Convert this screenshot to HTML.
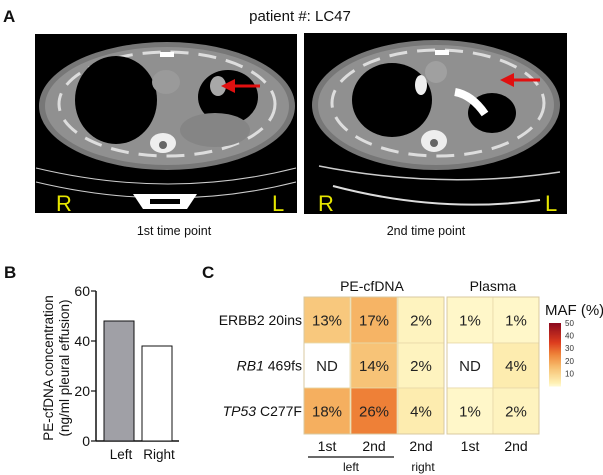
<!DOCTYPE html>
<html><head><meta charset="utf-8"><style>
body{margin:0;background:#fff;width:603px;height:475px;overflow:hidden;font-family:"Liberation Sans",Arial,sans-serif;}
svg{position:absolute;left:0;top:0}
</style></head><body>
<svg width="603" height="475" viewBox="0 0 603 475">
<g font-weight="bold" font-size="17" fill="#111">
<text x="3" y="22">A</text>
<text x="4" y="278">B</text>
<text x="202" y="278">C</text>
</g>
<text x="300" y="21" font-size="15" text-anchor="middle" fill="#111">patient #: LC47</text>

<g>
<rect x="35" y="34" width="262" height="179" fill="#000"/>
<ellipse cx="167" cy="106" rx="128" ry="64" fill="#777"/>
<ellipse cx="167" cy="106" rx="122" ry="59" fill="#909090"/>
<ellipse cx="167" cy="104" rx="108" ry="52" fill="none" stroke="#ddd" stroke-width="3" stroke-dasharray="18 10"/>
<ellipse cx="116" cy="100" rx="41" ry="44" fill="#000"/>
<ellipse cx="228" cy="97" rx="30" ry="27" fill="#000"/>
<ellipse cx="215" cy="130" rx="35" ry="17" fill="#858585"/>
<ellipse cx="166" cy="82" rx="14" ry="12" fill="#9a9a9a"/>
<ellipse cx="218" cy="86" rx="8" ry="10" fill="#a8a8a8"/>
<ellipse cx="163" cy="143" rx="13" ry="10" fill="#eee"/>
<circle cx="163" cy="145" r="4" fill="#666"/>
<rect x="160" y="52" width="14" height="5" fill="#fff"/>
<path d="M36 168 Q170 200 296 168" fill="none" stroke="#ccc" stroke-width="1"/>
<path d="M36 182 Q170 214 296 182" fill="none" stroke="#ccc" stroke-width="1"/>
<path d="M133 194 L197 194 L187 209 L143 209 Z" fill="#fff"/>
<rect x="150" y="199" width="30" height="5" fill="#000"/>
<line x1="260" y1="86" x2="232" y2="86" stroke="#e01010" stroke-width="3"/>
<path d="M221 86 L235 79 L235 93 Z" fill="#e01010"/>
<text x="56" y="211" font-size="22" fill="#e6e600">R</text>
<text x="272" y="211" font-size="22" fill="#e6e600">L</text>
</g>
<text x="174" y="235" font-size="12.5" text-anchor="middle" fill="#111">1st time point</text>

<g>
<rect x="304" y="33" width="263" height="181" fill="#000"/>
<ellipse cx="436" cy="105" rx="124" ry="65" fill="#777"/>
<ellipse cx="436" cy="105" rx="118" ry="60" fill="#909090"/>
<ellipse cx="438" cy="103" rx="106" ry="53" fill="none" stroke="#ddd" stroke-width="3" stroke-dasharray="18 10"/>
<ellipse cx="392" cy="100" rx="40" ry="37" fill="#000"/>
<ellipse cx="492" cy="113" rx="24" ry="20" fill="#000"/>
<ellipse cx="436" cy="72" rx="11" ry="11" fill="#a0a0a0"/>
<path d="M455 92 Q472 95 485 114" stroke="#fff" stroke-width="8" fill="none"/>
<ellipse cx="421" cy="85" rx="6" ry="10" fill="#eee"/>
<ellipse cx="434" cy="141" rx="13" ry="11" fill="#eee"/>
<circle cx="434" cy="143" r="4" fill="#666"/>
<rect x="435" y="50" width="14" height="5" fill="#fff"/>
<path d="M319 166 Q440 190 560 172" fill="none" stroke="#ccc" stroke-width="1.5"/>
<path d="M333 186 Q440 214 540 200" fill="none" stroke="#ddd" stroke-width="2"/>
<line x1="540" y1="80" x2="512" y2="80" stroke="#e01010" stroke-width="3"/>
<path d="M500 80 L514 73 L514 87 Z" fill="#e01010"/>
<text x="318" y="211" font-size="22" fill="#e6e600">R</text>
<text x="545" y="211" font-size="22" fill="#e6e600">L</text>
</g>
<text x="426" y="235" font-size="12.5" text-anchor="middle" fill="#111">2nd time point</text>

<g id="barchart"></g>
<g id="heatmap"></g>
</svg>
<script>
const barCats=["Left","Right"];
const barVals=[48,38];
const barFills=["#a0a0a6","#ffffff"];
const yTicks=[0,20,40,60];
const rowLabels=["ERBB2 20ins","RB1 469fs","TP53 C277F"];
const colLabels=["1st","2nd","2nd","1st","2nd"];
const mafVals=[[13,17,2,1,1],[null,14,2,null,4],[18,26,4,1,2]];
const legendTicks=[10,20,30,40,50];
const NS="http://www.w3.org/2000/svg";
function mk(p,t,a,txt){const e=document.createElementNS(NS,t);for(const k in a)e.setAttribute(k,a[k]);if(txt!==undefined)e.textContent=txt;p.appendChild(e);return e;}
// bar chart
const bc=document.getElementById('barchart');
const y0=441,y1=291,ymax=60;
const ys=v=>y0-(y0-y1)*v/ymax;
mk(bc,'line',{x1:96,y1:y1,x2:96,y2:y0,stroke:'#111','stroke-width':1.5});
mk(bc,'line',{x1:96,y1:y0,x2:179,y2:y0,stroke:'#111','stroke-width':1.5});
yTicks.forEach(t=>{
 const l=mk(bc,'line',{x1:91,y1:ys(t),x2:96,y2:ys(t),stroke:'#111','stroke-width':1.2});
 
 
 const tx=mk(bc,'text',{x:90,y:ys(t)+5,'font-size':14,'text-anchor':'end',fill:'#111'},String(t));
 
 
});
const bx=[104,142],bw=30;
barCats.forEach((c,i)=>{
 const r=mk(bc,'rect',{x:bx[i],y:ys(barVals[i]),width:bw,height:y0-ys(barVals[i]),fill:barFills[i],stroke:'#111','stroke-width':1});
 
 
 const t=mk(bc,'text',{x:bx[i]+bw/2+2,y:459,'font-size':13.5,'text-anchor':'middle',fill:'#111'},c);
 
 
});
const yt=mk(bc,'text',{transform:'translate(53,368) rotate(-90)','font-size':13.5,'text-anchor':'middle',fill:'#111'});


mk(yt,'tspan',{x:0,dy:0},'PE-cfDNA concentration');
mk(yt,'tspan',{x:0,dy:16},'(ng/ml pleural effusion)');
// heatmap
const hm=document.getElementById('heatmap');
const colX=[304,351,398,447,493],cw=46,rowY=[297,343,388],rh=[46,45,46];
function col(v){
 if(v===null)return '#ffffff';
 const stops=[[0,[255,250,212]],[3,[254,240,180]],[13,[248,200,125]],[18,[245,175,95]],[26,[238,128,55]],[35,[220,60,30]],[50,[140,10,30]]];
 for(let i=1;i<stops.length;i++){if(v<=stops[i][0]){const a=stops[i-1],b=stops[i],f=(v-a[0])/(b[0]-a[0]);const c=a[1].map((x,k)=>Math.round(x+(b[1][k]-x)*f));return 'rgb('+c.join(',')+')';}}
 return 'rgb(140,10,30)';
}
mafVals.forEach((row,r)=>{
 row.forEach((v,c)=>{
  const rc=mk(hm,'rect',{x:colX[c],y:rowY[r],width:cw,height:rh[r],fill:col(v),stroke:'#e8d9a8','stroke-width':0.8});
  
  
  const t=mk(hm,'text',{x:colX[c]+cw/2,y:rowY[r]+rh[r]/2+5.5,'font-size':15,'text-anchor':'middle',fill:'#222'},v===null?'ND':v+'%');
  
  
 });
});
mk(hm,'rect',{x:304,y:297,width:140,height:137,fill:'none',stroke:'#d8c9a0','stroke-width':1});
mk(hm,'rect',{x:447,y:297,width:92,height:137,fill:'none',stroke:'#d8c9a0','stroke-width':1});
const rl=[[null,'ERBB2 20ins'],['RB1',' 469fs'],['TP53',' C277F']];
rl.forEach((p,r)=>{
 const t=mk(hm,'text',{x:302,y:rowY[r]+rh[r]/2+5,'font-size':14,'text-anchor':'end',fill:'#111'});
 
 
 if(p[0])mk(t,'tspan',{'font-style':'italic'},p[0]);
 mk(t,'tspan',{},p[0]?p[1]:rowLabels[r]);
});
colLabels.forEach((c,i)=>{
 const t=mk(hm,'text',{x:colX[i]+cw/2,y:451,'font-size':14,'text-anchor':'middle',fill:'#111'},c);
 
 
});
mk(hm,'line',{x1:308,y1:457,x2:394,y2:457,stroke:'#111','stroke-width':1.3});
const lf=mk(hm,'text',{x:351,y:471,'font-size':12,'text-anchor':'middle',fill:'#111'},'left');

const rg=mk(hm,'text',{x:423,y:471,'font-size':12,'text-anchor':'middle',fill:'#111'},'right');

const h1=mk(hm,'text',{x:372,y:291,'font-size':14,'text-anchor':'middle',fill:'#111'},'PE-cfDNA');

const h2=mk(hm,'text',{x:493,y:291,'font-size':14,'text-anchor':'middle',fill:'#111'},'Plasma');

// legend
const lt=mk(hm,'text',{x:545,y:315,'font-size':15,fill:'#111'},'MAF (%)');

const ly0=386,ly1=323,lmax=50;
const lys=v=>ly0-(ly0-ly1)*v/lmax;
for(let v=0;v<50;v+=1){
 const s=mk(hm,'rect',{x:549,y:lys(v+1),width:12,height:(ly0-ly1)/lmax+0.5,fill:col(v+0.5)});
 
 
}
legendTicks.forEach(t=>{
 const tx=mk(hm,'text',{x:565,y:lys(t)+3,'font-size':8,fill:'#333'},String(t));
 
 
});
</script>
</body></html>
